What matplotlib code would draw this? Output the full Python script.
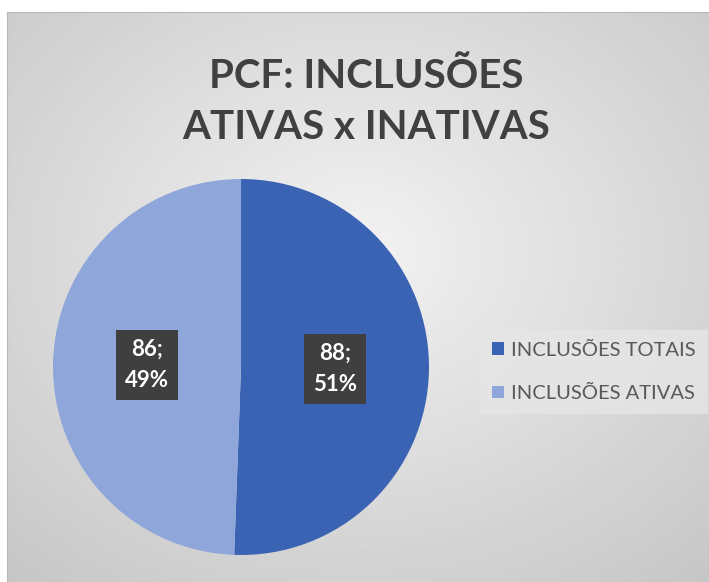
import numpy as np
import matplotlib.pyplot as plt

labels = ['INCLUSÕES TOTAIS', 'INCLUSÕES ATIVAS']
values = [88, 86]
colors = ['#3b63b3', '#8fa6da']
title = 'PCF: INCLUSÕES\nATIVAS x INATIVAS'

W, H = 709, 582
fig = plt.figure(figsize=(W / 100, H / 100), dpi=100, facecolor='white')
plt.rcParams['font.family'] = ['Lato', 'DejaVu Sans']

# radial gray background of the chart area
bg = fig.add_axes([7 / W, 0, (W - 7) / W, (H - 12) / H])
yy, xx = np.mgrid[0:1:300j, 0:1:360j]
r = np.sqrt(((xx - 0.5) / 0.75) ** 2 + ((yy - 0.42) / 0.75) ** 2)
bg.imshow(0.95 - 0.17 * np.clip(r, 0, 1), cmap='gray', vmin=0, vmax=1,
          extent=(0, 1, 0, 1), aspect='auto', origin='upper')
bg.set_xlim(0, 1)
bg.set_ylim(0, 1)
for s in bg.spines.values():
    s.set_color('#b8b8b8')
bg.spines['bottom'].set_visible(False)
bg.spines['right'].set_visible(False)
bg.set_xticks([])
bg.set_yticks([])

fig.text(366 / W, 1 - 102 / H, title, ha='center', va='center',
         fontsize=29, fontweight='bold', color='#404040', linespacing=1.45)

total = sum(values)

def fmt(pct):
    return '{:d};\n{:.0f}%'.format(int(round(pct * total / 100)), pct)

ax = fig.add_axes([53 / W, 27 / H, 376 / W, 376 / H])
wedges, texts, autotexts = ax.pie(values, colors=colors, startangle=90,
                                  counterclock=False, autopct=fmt,
                                  pctdistance=0.5,
                                  textprops=dict(color='white', fontsize=16,
                                                 fontweight='bold'))
for t in autotexts:
    t.set_linespacing(1.6)
    t.set_bbox(dict(boxstyle='square,pad=0.4', fc='#3f3f3f', ec='none'))
ax.set_xlim(-1, 1)
ax.set_ylim(-1, 1)

leg = fig.legend(wedges, labels, loc='center left',
                 bbox_to_anchor=(470 / W, 1 - 372 / H),
                 frameon=True, fancybox=False, fontsize=14.5,
                 handlelength=0.6, handleheight=0.6, handletextpad=0.35,
                 labelspacing=1.3, borderpad=0.6, labelcolor='#595959')
leg.get_frame().set_facecolor('#e6e6e6')
leg.get_frame().set_edgecolor('none')
leg.get_frame().set_alpha(0.8)

fig.savefig('out.png', dpi=100, facecolor='white')
